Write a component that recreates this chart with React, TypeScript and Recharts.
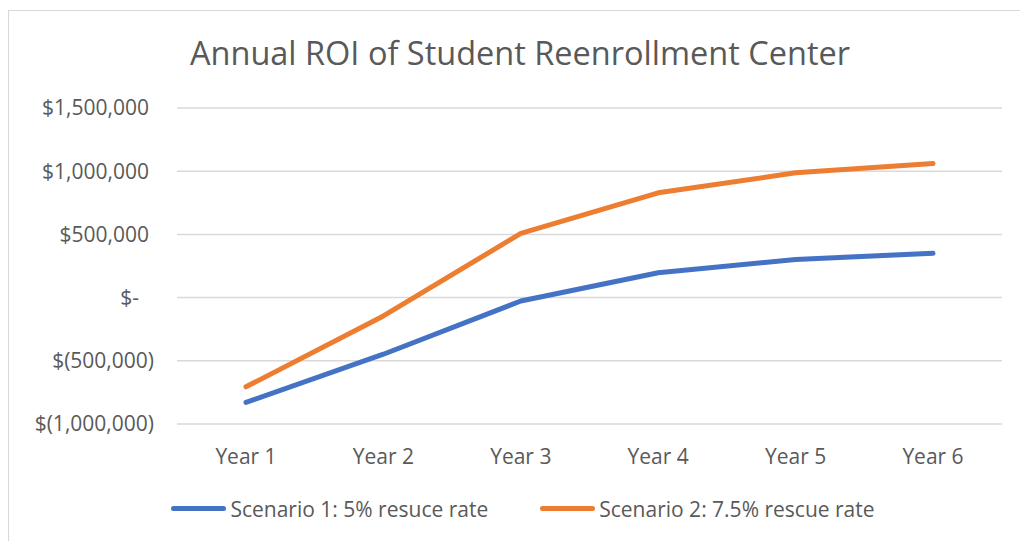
import React from 'react';
import { LineChart, Line, XAxis, YAxis, CartesianGrid, Legend } from 'recharts';

const years = ['Year 1', 'Year 2', 'Year 3', 'Year 4', 'Year 5', 'Year 6'];
const scenario1 = [-829000, -448000, -27000, 197000, 302000, 350000];
const scenario2 = [-706000, -145000, 508000, 829000, 987000, 1060000];
const yTicks = [-1000000, -500000, 0, 500000, 1000000, 1500000];

const series = [
  { key: 's1', name: 'Scenario 1: 5% resuce rate', color: '#4472C4' },
  { key: 's2', name: 'Scenario 2: 7.5% rescue rate', color: '#ED7D31' },
];

const chartData = years.map((year, i) => ({
  year,
  s1: scenario1[i],
  s2: scenario2[i],
}));

const FONT = '"Open Sans", sans-serif';
const TEXT = '#595959';

// Excel accounting style labels
function formatMoney(v: number) {
  if (v === 0) return '$-';
  if (v < 0) return `$(${Math.abs(v).toLocaleString('en-US')})`;
  return `$${v.toLocaleString('en-US')}`;
}

function YTick(props: any) {
  const { x, y, payload } = props;
  const v = payload.value;
  // negatives hang the ")" to the right, "$-" sits a bit left
  const shift = v === 0 ? -38 : v < 0 ? -23 : -28;
  return (
    <text x={x + shift} y={y} dy="0.35em" textAnchor="end" fill={TEXT} fontSize={21} fontFamily={FONT}>
      {formatMoney(v)}
    </text>
  );
}

function LegendContent() {
  return (
    <div style={{ display: 'flex', justifyContent: 'center', alignItems: 'center', gap: 52, fontFamily: FONT, height: 29 }}>
      {series.map((s) => (
        <div key={s.key} style={{ display: 'flex', alignItems: 'center' }}>
          <div style={{ width: 55, height: 5, borderRadius: 3, background: s.color, marginRight: 4 }} />
          <span style={{ fontSize: 21, color: TEXT }}>{s.name}</span>
        </div>
      ))}
    </div>
  );
}

export default function App() {
  return (
    <div style={{ position: 'absolute', left: 0, top: 0, width: 1020, height: 541, background: '#fff', overflow: 'hidden' }}>
      <div
        style={{
          position: 'absolute',
          left: 8,
          top: 10,
          width: 1030,
          height: 560,
          border: '1.5px solid #d9d9d9',
          boxSizing: 'border-box',
        }}
      />
      <div
        style={{
          position: 'absolute',
          left: 0,
          top: 30,
          width: 1040,
          textAlign: 'center',
          fontFamily: FONT,
          fontSize: 32.5,
          color: TEXT,
        }}
      >
        Annual ROI of Student Reenrollment Center
      </div>
      <div style={{ position: 'absolute', left: 0, top: 0 }}>
        <LineChart width={1020} height={541} data={chartData} margin={{ top: 108, right: 18, left: 0, bottom: 58 }}>
          <CartesianGrid vertical={false} stroke="#d9d9d9" strokeWidth={1.5} />
          <XAxis
            dataKey="year"
            height={30}
            axisLine={false}
            tickLine={false}
            tickSize={0}
            tickMargin={25}
            padding={{ left: 69, right: 69 }}
            tick={{ fill: TEXT, fontSize: 21, fontFamily: FONT }}
          />
          <YAxis
            domain={[-1000000, 1500000]}
            ticks={yTicks}
            width={177}
            axisLine={false}
            tickLine={false}
            tickSize={0}
            tickMargin={0}
            tick={<YTick />}
          />
          <Legend content={<LegendContent />} wrapperStyle={{ top: 494, left: 13, width: 1020 }} />
          {series.map((s) => (
            <Line
              key={s.key}
              dataKey={s.key}
              name={s.name}
              stroke={s.color}
              strokeWidth={5}
              strokeLinecap="round"
              strokeLinejoin="round"
              dot={false}
              activeDot={false}
              isAnimationActive={false}
            />
          ))}
        </LineChart>
      </div>
    </div>
  );
}
